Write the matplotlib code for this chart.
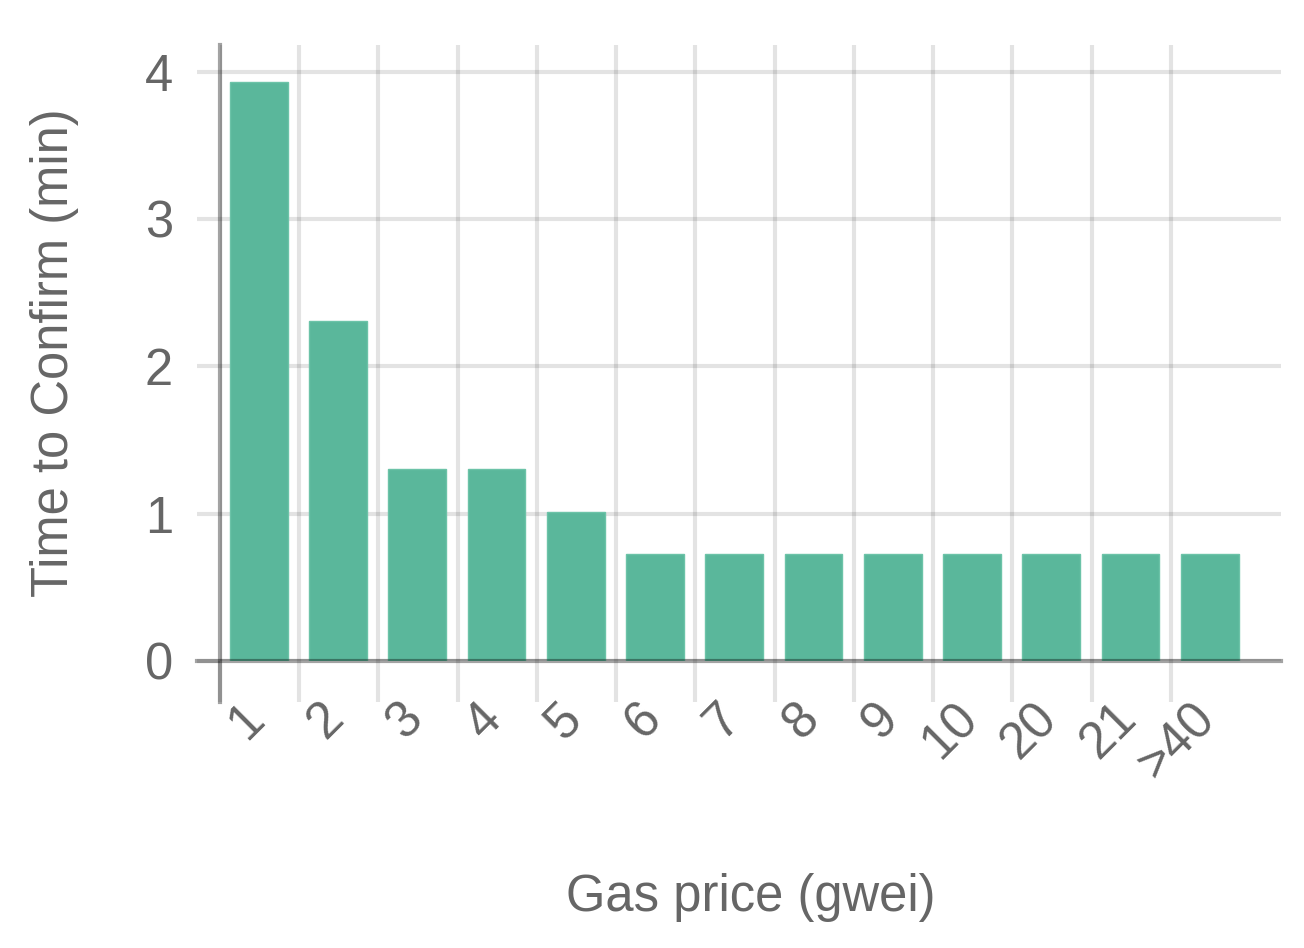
import matplotlib
matplotlib.use("Agg")
import matplotlib.pyplot as plt
from matplotlib.transforms import blended_transform_factory, offset_copy

categories = ["1", "2", "3", "4", "5", "6", "7", "8", "9", "10", "20", "21", ">40"]
values = [3.93, 2.31, 1.30, 1.30, 1.01, 0.726, 0.726, 0.726, 0.726, 0.726, 0.726, 0.726, 0.726]
yticks = [0, 1, 2, 3, 4]

plt.rcParams['font.family'] = ['Liberation Sans', 'DejaVu Sans']
TXT = '#666666'
GRID = (0, 0, 0, 0.11)
AXIS = (0, 0, 0, 0.36)
BAR = '#5ab79b'

fig = plt.figure(figsize=(13.04, 9.48), dpi=100)
W, H = 1304, 948
ax = fig.add_axes([220 / W, 1 - 661 / H, (1281 - 220) / W, (661 - 45) / H])

n = len(categories)
pos = [i + 0.49 for i in range(n)]
ax.bar(pos, values, width=0.73, color=BAR, edgecolor='#6cc3a8', linewidth=1.0, zorder=2)

ax.set_xlim(0, 13.39)
ax.set_ylim(0, 4.18)

ax.set_xticks(range(n))
ax.set_xticklabels([])
ax.set_yticks(yticks)
ax.set_yticklabels([str(v) for v in yticks], fontsize=36.5, color=TXT)

ax.grid(True, color='black', alpha=0.11, linewidth=3, zorder=0)
ax.set_axisbelow(True)
ax.tick_params(axis='x', length=41 * 0.72, width=3, color=GRID, pad=0)
ax.tick_params(axis='y', length=23 * 0.72, width=3, color=GRID, pad=24 * 0.72)

for s in ['top', 'right']:
    ax.spines[s].set_visible(False)
for s in ['left', 'bottom']:
    ax.spines[s].set_color(AXIS)
    ax.spines[s].set_linewidth(3)
    ax.spines[s].set_zorder(3)
ax.spines['left'].set_bounds(-41 / 147.4, 4.18)
ax.spines['bottom'].set_bounds(-23 / 79.25, 13.39)

trans = blended_transform_factory(ax.transData, ax.transAxes)
trans = offset_copy(trans, fig=fig, x=37, y=-50, units='dots')
for i, lab in enumerate(categories):
    ax.text(i, 0, lab, transform=trans, rotation=45, rotation_mode='anchor',
            ha='right', va='center', fontsize=36.5, color=TXT, clip_on=False)

ax.set_xlabel("Gas price (gwei)", fontsize=36.5, color=TXT)
ax.xaxis.set_label_coords(0.5, (661 - 897) / 616)
ax.xaxis.label.set_va('center')
ax.set_ylabel("Time to Confirm (min)", fontsize=36.5, color=TXT)
ax.yaxis.set_label_coords((55 - 220) / 1061, 0.5)
ax.yaxis.label.set_va('center')

fig.savefig("out.png", dpi=100)
